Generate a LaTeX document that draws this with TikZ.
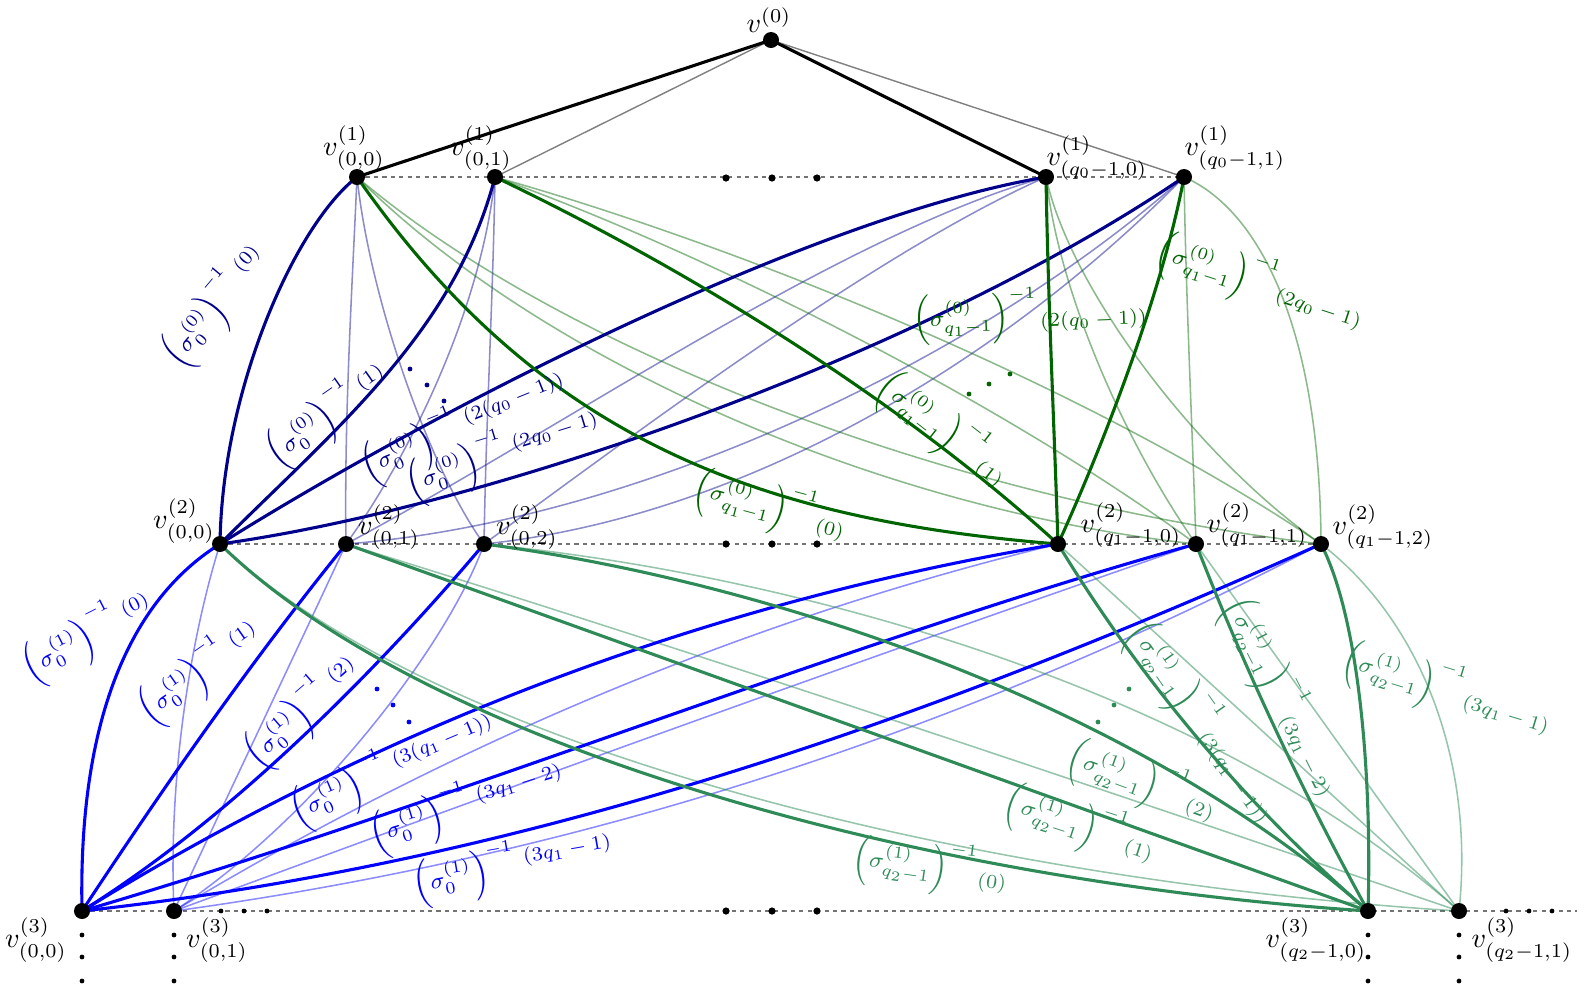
\documentclass[tikz,border=0pt]{standalone}
\usetikzlibrary{backgrounds}
\definecolor{navyc}{RGB}{0,0,139}
\definecolor{dgreen}{RGB}{0,100,0}
\definecolor{sgreen}{RGB}{46,139,87}
\newcommand{\bl}[3]{\footnotesize$\left(\sigma_{#1}^{(#2)}\right)^{-1}$\hspace{3pt}\raisebox{1.0ex}{\scriptsize$#3$}}
\newcommand{\gl}[3]{\footnotesize$\left(\sigma^{(#2)}_{#1}\right)^{-1}$\hspace{1pt}\raisebox{-0.5ex}{\scriptsize$#3$}}
\tikzset{
  vtx/.style={circle, fill=black, inner sep=0pt, minimum size=0.2cm},
  vlab/.style={inner sep=0pt},
  elab/.style={inner sep=0pt},
  blk/.style={black, line width=1.1pt},
  gry/.style={black!50, line width=0.5pt},
  thickN/.style={navyc, line width=1.1pt},
  thinN/.style={navyc, opacity=0.45, line width=0.55pt},
  thickG/.style={dgreen, line width=1.1pt},
  thinG/.style={dgreen, opacity=0.45, line width=0.55pt},
  thickB/.style={blue, line width=1.1pt},
  thinB/.style={blue, opacity=0.45, line width=0.55pt},
  thickS/.style={sgreen, line width=1.1pt},
  thinS/.style={sgreen, opacity=0.5, line width=0.55pt},
  levelline/.style={black!55, line width=0.4pt, dash pattern=on 1.5pt off 1.5pt},
}
\begin{document}
\begin{tikzpicture}[x=0.0125cm, y=-0.0125cm]
\useasboundingbox (0,0) rectangle (1577,985);
% vertices
\node[vtx] (v0) at (771,40) {};
\node[vtx] (A0) at (357,177) {};
\node[vtx] (A1) at (495,177) {};
\node[vtx] (A2) at (1046,177) {};
\node[vtx] (A3) at (1184,177) {};
\node[vtx] (B0) at (220,544) {};
\node[vtx] (B1) at (346,544) {};
\node[vtx] (B2) at (484,544) {};
\node[vtx] (B3) at (1058,544) {};
\node[vtx] (B4) at (1196,544) {};
\node[vtx] (B5) at (1321,544) {};
\node[vtx] (C0) at (82,911) {};
\node[vtx] (C1) at (174,911) {};
\node[vtx] (C2) at (1368,911) {};
\node[vtx] (C3) at (1459,911) {};
\coordinate (Cend) at (1577,911);

\begin{scope}[on background layer]
% dashed level lines
\draw[levelline] (A0.center) -- (A3.center);
\draw[levelline] (B0.center) -- (B5.center);
\draw[levelline] (C0.center) -- (Cend);
% level 0 -> 1
\draw[gry] (v0.center) -- (A1.center);
\draw[gry] (v0.center) -- (A3.center);
\draw[blk] (v0.center) -- (A0.center);
\draw[blk] (v0.center) -- (A2.center);
% level 1 -> 2 thin navy
\draw[thinN] (B1.center) .. controls (344,420) and (352,290) .. (A0.center);
\draw[thinN] (B1.center) .. controls (400,470) and (480,320) .. (A1.center);
\draw[thinN] (B1.center) .. controls (560,430) and (840,235) .. (A2.center);
\draw[thinN] (B1.center) .. controls (650,520) and (990,350) .. (A3.center);
\draw[thinN] (B2.center) .. controls (430,470) and (370,300) .. (A0.center);
\draw[thinN] (B2.center) .. controls (486,420) and (493,300) .. (A1.center);
\draw[thinN] (B2.center) .. controls (640,430) and (880,250) .. (A2.center);
\draw[thinN] (B2.center) .. controls (760,515) and (1020,345) .. (A3.center);
% level 1 -> 2 thin green
\draw[thinG] (A0.center) .. controls (540,360) and (880,510) .. (B4.center);
\draw[thinG] (A0.center) .. controls (560,350) and (950,500) .. (B5.center);
\draw[thinG] (A1.center) .. controls (700,250) and (1000,400) .. (B4.center);
\draw[thinG] (A1.center) .. controls (720,240) and (1080,380) .. (B5.center);
\draw[thinG] (A2.center) .. controls (1060,300) and (1130,450) .. (B4.center);
\draw[thinG] (A2.center) .. controls (1070,290) and (1200,460) .. (B5.center);
\draw[thinG] (A3.center) .. controls (1186,300) and (1192,420) .. (B4.center);
\draw[thinG] (A3.center) .. controls (1260,210) and (1320,330) .. (B5.center);
% level 1 -> 2 thick navy
\draw[thickN] (B0.center) .. controls (222,390) and (295,225) .. (A0.center);
\draw[thickN] (B0.center) .. controls (333,431) and (455,332) .. (A1.center);
\draw[thickN] (B0.center) .. controls (450,400) and (820,215) .. (A2.center);
\draw[thickN] (B0.center) .. controls (500,505) and (930,350) .. (A3.center);
% level 1 -> 2 thick green
\draw[thickG] (A0.center) .. controls (540,440) and (760,520) .. (B3.center);
\draw[thickG] (A1.center) .. controls (690,270) and (900,400) .. (B3.center);
\draw[thickG] (A2.center) .. controls (1048,300) and (1054,420) .. (B3.center);
\draw[thickG] (A3.center) .. controls (1165,280) and (1110,430) .. (B3.center);
% level 2 -> 3 thin blue
\draw[thinB] (C1.center) .. controls (168,780) and (190,640) .. (B0.center);
\draw[thinB] (C1.center) .. controls (230,790) and (290,665) .. (B1.center);
\draw[thinB] (C1.center) .. controls (320,815) and (450,640) .. (B2.center);
\draw[thinB] (C1.center) .. controls (450,745) and (745,620) .. (B3.center);
\draw[thinB] (C1.center) .. controls (515,785) and (855,662) .. (B4.center);
\draw[thinB] (C1.center) .. controls (577,856) and (960,733) .. (B5.center);
% level 2 -> 3 thin seagreen
\draw[thinS] (B0.center) .. controls (430,745) and (960,880) .. (C3.center);
\draw[thinS] (B1.center) .. controls (720,660) and (1090,785) .. (C3.center);
\draw[thinS] (B2.center) .. controls (800,575) and (1210,690) .. (C3.center);
\draw[thinS] (B3.center) .. controls (1192,666) and (1325,789) .. (C3.center);
\draw[thinS] (B4.center) .. controls (1283,666) and (1371,789) .. (C3.center);
\draw[thinS] (B5.center) .. controls (1420,620) and (1475,760) .. (C3.center);
% level 2 -> 3 thick blue
\draw[thickB] (C0.center) .. controls (78,720) and (130,600) .. (B0.center);
\draw[thickB] (C0.center) .. controls (165,785) and (252,660) .. (B1.center);
\draw[thickB] (C0.center) .. controls (260,800) and (420,620) .. (B2.center);
\draw[thickB] (C0.center) .. controls (383,725) and (709,602) .. (B3.center);
\draw[thickB] (C0.center) .. controls (460,800) and (850,640) .. (B4.center);
\draw[thickB] (C0.center) .. controls (491,866) and (877,743) .. (B5.center);
% level 2 -> 3 thick seagreen
\draw[thickS] (B0.center) .. controls (420,740) and (900,880) .. (C2.center);
\draw[thickS] (B1.center) .. controls (686,666) and (1027,789) .. (C2.center);
\draw[thickS] (B2.center) .. controls (760,580) and (1130,700) .. (C2.center);
\draw[thickS] (B3.center) .. controls (1142,682) and (1246,805) .. (C2.center);
\draw[thickS] (B4.center) .. controls (1245,670) and (1303,793) .. (C2.center);
\draw[thickS] (B5.center) .. controls (1360,620) and (1372,780) .. (C2.center);
\end{scope}

% ellipsis dots on the level lines
\foreach \x in {726,772,817} {
  \fill (\x,178) circle[radius=0.045cm];
  \fill (\x,544) circle[radius=0.045cm];
  \fill (\x,911) circle[radius=0.045cm];
}
\foreach \x in {221,244,267,1506,1529,1552} \fill (\x,911) circle[radius=0.03cm];
\foreach \x in {82,174,1368,1459} \foreach \y in {935,957,981} \fill (\x,\y) circle[radius=0.03cm];
% coloured ellipsis dots
\foreach \p in {(410,369),(427,385),(444,401)} \fill[navyc] \p circle[radius=0.03cm];
\foreach \p in {(969,394),(989,384),(1010,374)} \fill[dgreen] \p circle[radius=0.03cm];
\foreach \p in {(377,689),(393,705),(409,722)} \fill[blue] \p circle[radius=0.03cm];
\foreach \p in {(1098,722),(1114,705),(1129,689)} \fill[sgreen] \p circle[radius=0.03cm];

% vertex labels
\node[vlab] (lv0) at (769,20) {$v^{(0)}$};
\node[vlab] (lA0) at (354,148) {$v^{(1)}_{(0,0)}$};
\node[vlab] (lA1) at (481,148) {$v^{(1)}_{(0,1)}$};
\node[vlab] (lA2) at (1097,158) {$v^{(1)}_{(q_0-1,0)}$};
\node[vlab] (lA3) at (1235,148) {$v^{(1)}_{(q_0-1,1)}$};
\node[vlab] (lB0) at (184,521) {$v^{(2)}_{(0,0)}$};
\node[vlab] (lB1) at (389,527) {$v^{(2)}_{(0,1)}$};
\node[vlab] (lB2) at (527,527) {$v^{(2)}_{(0,2)}$};
\node[vlab] (lB3) at (1131,525) {$v^{(2)}_{(q_1-1,0)}$};
\node[vlab] (lB4) at (1257,525) {$v^{(2)}_{(q_1-1,1)}$};
\node[vlab] (lB5) at (1383,527) {$v^{(2)}_{(q_1-1,2)}$};
\node[vlab] (lC0) at (36,940) {$v^{(3)}_{(0,0)}$};
\node[vlab] (lC1) at (217,940) {$v^{(3)}_{(0,1)}$};
\node[vlab] (lC2) at (1316,940) {$v^{(3)}_{(q_2-1,0)}$};
\node[vlab] (lC3) at (1522,940) {$v^{(3)}_{(q_2-1,1)}$};

% edge labels level 1 -> 2
\node[elab, navyc, rotate=50] (L1) at (216,307) {\bl{0}{0}{(0)}};
\node[elab, navyc, rotate=35] (L2) at (328,416) {\bl{0}{0}{(1)}};
\node[elab, navyc, rotate=22] (L3) at (464,427) {\bl{0}{0}{(2(q_0-1))}};
\node[elab, navyc, rotate=17] (L4) at (503,455) {\bl{0}{0}{(2q_0-1)}};
\node[elab, dgreen, rotate=-15] (L5) at (770,507) {\gl{q_1-1}{0}{(0)}};
\node[elab, dgreen, rotate=-38] (L6) at (943,430) {\gl{q_1-1}{0}{(1)}};
\node[elab, dgreen, rotate=2] (L7) at (1030,315) {\gl{q_1-1}{0}{(2(q_0-1))}};
\node[elab, dgreen, rotate=-18] (L8) at (1260,283) {\gl{q_1-1}{0}{(2q_0-1)}};
% edge labels level 2 -> 3
\node[elab, blue, rotate=27] (M1) at (88,637) {\bl{0}{1}{(0)}};
\node[elab, blue, rotate=35] (M2) at (200,673) {\bl{0}{1}{(1)}};
\node[elab, blue, rotate=41] (M3) at (303,713) {\bl{0}{1}{(2)}};
\node[elab, blue, rotate=23] (M4) at (393,770) {\bl{0}{1}{(3(q_1-1))}};
\node[elab, blue, rotate=17] (M5) at (467,807) {\bl{0}{1}{(3q_1-2)}};
\node[elab, blue, rotate=10] (M6) at (513,867) {\bl{0}{1}{(3q_1-1)}};
\node[elab, sgreen, rotate=-8] (M7) at (930,867) {\gl{q_2-1}{1}{(0)}};
\node[elab, sgreen, rotate=-18] (M8) at (1080,825) {\gl{q_2-1}{1}{(1)}};
\node[elab, sgreen, rotate=-20] (M9) at (1142,782) {\gl{q_2-1}{1}{(2)}};
\node[elab, sgreen, rotate=-55] (M10) at (1202,722) {\gl{q_2-1}{1}{(3(q_1-1))}};
\node[elab, sgreen, rotate=-63] (M11) at (1282,697) {\gl{q_2-1}{1}{(3q_1-2)}};
\node[elab, sgreen, rotate=-17] (M12) at (1447,690) {\gl{q_2-1}{1}{(3q_1-1)}};
\end{tikzpicture}
\end{document}
